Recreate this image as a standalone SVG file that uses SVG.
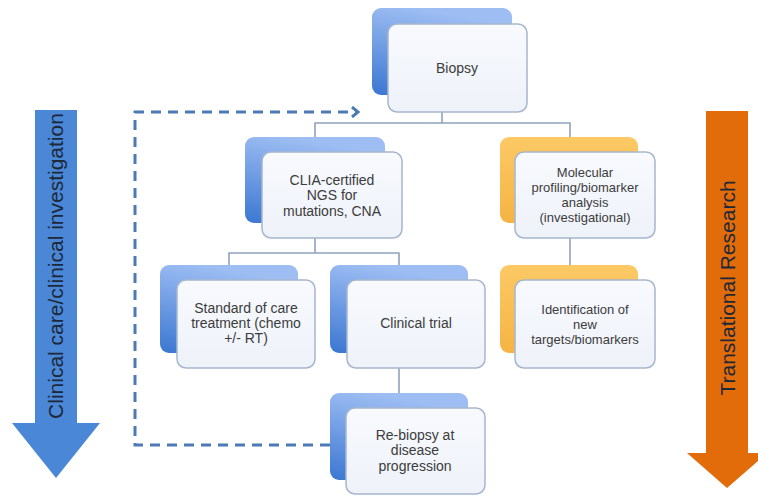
<svg xmlns="http://www.w3.org/2000/svg" width="758" height="496" viewBox="0 0 758 496">
<defs>
<linearGradient id="gb" x1="0.3" y1="0" x2="0" y2="1">
<stop offset="0" stop-color="#9dbdf3"/>
<stop offset="1" stop-color="#3b77d1"/>
</linearGradient>
<linearGradient id="go" x1="0" y1="0" x2="0" y2="1">
<stop offset="0" stop-color="#fcc965"/>
<stop offset="1" stop-color="#f5b443"/>
</linearGradient>
<linearGradient id="gf" x1="0" y1="0" x2="0" y2="1">
<stop offset="0" stop-color="#f8fafe"/>
<stop offset="1" stop-color="#eef2f9"/>
</linearGradient>
<marker id="chev" markerWidth="10" markerHeight="12" refX="7" refY="6" orient="auto" markerUnits="userSpaceOnUse">
<polyline points="1,1 7,6 1,11" fill="none" stroke="#4d79b5" stroke-width="3"/>
</marker>
</defs>
<style>
.back{fill:url(#gb);}
.backo{fill:url(#go);}
.front{fill:url(#gf);stroke:#a6b6ce;stroke-width:1.5;}
.t{font-family:"Liberation Sans",Arial,sans-serif;font-size:14px;fill:#3c3c3c;text-anchor:middle;}
.s{font-size:13px;}
.conn{fill:none;stroke:#8ea2be;stroke-width:1.6;}
.dash{fill:none;stroke:#4d79b5;stroke-width:3;stroke-dasharray:10 7;}
.big{font-family:"Liberation Sans",Arial,sans-serif;font-size:21px;fill:#1d2838;text-anchor:middle;}
</style>
<rect width="758" height="496" fill="#ffffff"/>

<g id="arrow-clinical">
<polygon points="35,110 77,110 77,423 100,423 56,478 12,423 35,423" fill="#4a87d6"/>
<text class="big" transform="translate(63,266) rotate(-90)">Clinical care/clinical investigation</text>
</g>
<g id="arrow-translational">
<polygon points="706,111 748,111 748,453 767,453 727,488 687,453 706,453" fill="#e36c0a"/>
<text class="big" transform="translate(735,288) rotate(-90)">Translational Research</text>
</g>

<g id="connectors">
<path class="conn" d="M442,112 V123"/>
<path class="conn" d="M315,137 V123 H570 V137"/>
<path class="conn" d="M315,238 V253"/>
<path class="conn" d="M229,265 V253 H399 V265"/>
<path class="conn" d="M399,368 V393"/>
<path class="conn" d="M570,238 V265"/>
<path class="dash" d="M330,445 H135 V112 H358" marker-end="url(#chev)"/>
</g>

<g id="biopsy">
<rect class="back" x="372" y="8" width="140" height="87" rx="9"/>
<rect class="front" x="388" y="24" width="139" height="88" rx="9"/>
<text class="t" x="457" y="73">Biopsy</text>
</g>

<g id="clia">
<rect class="back" x="245" y="137" width="140" height="86" rx="9"/>
<rect class="front" x="262" y="152" width="140" height="86" rx="9"/>
<text class="t" x="332" y="185">CLIA-certified</text>
<text class="t" x="332" y="200">NGS for</text>
<text class="t" x="332" y="216">mutations, CNA</text>
</g>

<g id="molecular">
<rect class="backo" x="500" y="137" width="138" height="86" rx="9"/>
<rect class="front" x="515" y="152" width="140" height="86" rx="9"/>
<text class="t s" x="585" y="177">Molecular</text>
<text class="t s" x="585" y="192">profiling/biomarker</text>
<text class="t s" x="585" y="207">analysis</text>
<text class="t s" x="585" y="222">(investigational)</text>
</g>

<g id="standard">
<rect class="back" x="160" y="265" width="138" height="88" rx="9"/>
<rect class="front" x="177" y="280" width="138" height="88" rx="9"/>
<text class="t" x="246" y="313">Standard of care</text>
<text class="t" x="246" y="328">treatment (chemo</text>
<text class="t" x="246" y="343">+/- RT)</text>
</g>

<g id="clinical-trial">
<rect class="back" x="330" y="265" width="138" height="88" rx="9"/>
<rect class="front" x="347" y="280" width="138" height="88" rx="9"/>
<text class="t" x="416" y="328">Clinical trial</text>
</g>

<g id="identification">
<rect class="backo" x="500" y="265" width="138" height="88" rx="9"/>
<rect class="front" x="515" y="280" width="140" height="88" rx="9"/>
<text class="t s" x="585" y="314">Identification of</text>
<text class="t s" x="585" y="329">new</text>
<text class="t s" x="585" y="344">targets/biomarkers</text>
</g>

<g id="rebiopsy">
<rect class="back" x="330" y="393" width="138" height="87" rx="9"/>
<rect class="front" x="346" y="408" width="139" height="86" rx="9"/>
<text class="t" x="415" y="440">Re-biopsy at</text>
<text class="t" x="415" y="455">disease</text>
<text class="t" x="415" y="471">progression</text>
</g>
</svg>
